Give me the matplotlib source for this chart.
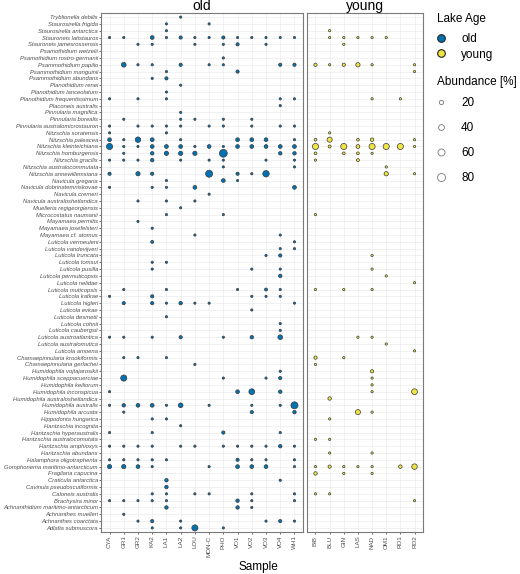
import numpy as np
import matplotlib.pyplot as plt
from matplotlib.lines import Line2D

plt.rcParams['font.family'] = ['Liberation Sans', 'DejaVu Sans']

# species, top to bottom
species = [
    "Tryblionella debilis", "Staurosirella frigida", "Staurosirella antarctica",
    "Stauroneis latistauros", "Stauroneis jamesrossensis", "Psamothidium wetzelii",
    "Psamothidium rostro-germanii", "Psammothidium papilio", "Psammothidium manguinii",
    "Psammothidium abundans", "Planothidium renei", "Planothidium lanceolatum",
    "Planothidium frequentissimum", "Placoneis australis", "Pinnularia magnifica",
    "Pinnularia borealis", "Pinnularia australomicrostauron", "Nitzschia soratensis",
    "Nitzschia paleacea", "Nitzschia kleinteichiana", "Nitzschia homburgensis",
    "Nitzschia gracilis", "Nitzschia australocommutata", "Nitzschia annewillemsiana",
    "Navicula gregaria", "Navicula dobrinatemniskovae", "Navicula cremeri",
    "Navicula australoshetlandica", "Muelleria regigeorgiensis", "Microcostatus naumanii",
    "Mayamaea permitis", "Mayamaea josefelsteri", "Mayamaea cf. atomus",
    "Luticola vermeuleni", "Luticola vandevijveri", "Luticola truncata",
    "Luticola tomsui", "Luticola pusilla", "Luticola permuticopsis",
    "Luticola nelidae", "Luticola muticopsis", "Luticola katkae",
    "Luticola higleri", "Luticola evkae", "Luticola desmetii",
    "Luticola cohnii", "Luticola caubergsii", "Luticola austroatlantica",
    "Luticola australomutica", "Luticola amoena", "Chamaepinnularia krookiformis",
    "Chamaepinnularia gerlachei", "Humidophila vojtajarosikii", "Humidophila sceppacuerciae",
    "Humidophila keiliorum", "Humidophila inconspicua", "Humidophila australoshetlandica",
    "Humidophila australis", "Humidophila arcuata", "Hippodonta hungarica",
    "Hantzschia incognita", "Hantzschia hyperaustralis", "Hantzschia australocomutata",
    "Hantzschia amphioxys", "Hantzschia abundans", "Halamphora oligotraphenta",
    "Gomphonema maritimo-antarcticum", "Fragilaria capucina", "Craticula antarctica",
    "Cavinula pseudoscutiformis", "Caloneis australis", "Brachysira minor",
    "Achnanthidium maritimo-antarcticum", "Achnanthes muelleri", "Achnanthes coarctata",
    "Adlafia submuscora",
]

old_samples = ["CYA", "GR1", "GR2", "KA2", "LA1", "LA2", "LOU", "MON-C",
               "PHO", "VO1", "VO2", "VO3", "VO4", "WH1"]
young_samples = ["BIB", "BLU", "GIN", "LAS", "NAD", "OM1", "RO1", "RO2"]

# relative abundance [%] per species and sample (estimated from the figure)
old_obs = {
    "Tryblionella debilis": {"LA2": 3},
    "Staurosirella frigida": {"LA1": 3, "MON-C": 3},
    "Staurosirella antarctica": {"LA1": 3},
    "Stauroneis latistauros": {"CYA": 3, "GR1": 3, "KA2": 15, "LA1": 3, "LA2": 10, "LOU": 3,
                               "MON-C": 3, "PHO": 10, "VO1": 3, "VO2": 3, "VO3": 3, "VO4": 3, "WH1": 3},
    "Stauroneis jamesrossensis": {"GR2": 3, "KA2": 3, "LOU": 3, "PHO": 3, "VO1": 10, "VO3": 3},
    "Psamothidium rostro-germanii": {"PHO": 3},
    "Psammothidium papilio": {"GR1": 25, "GR2": 3, "KA2": 3, "LA2": 10, "MON-C": 3, "PHO": 3,
                              "VO4": 10, "WH1": 10},
    "Psammothidium manguinii": {"LA1": 3, "VO1": 10},
    "Psammothidium abundans": {"KA2": 3, "LA1": 10},
    "Planothidium renei": {"LA2": 3},
    "Planothidium lanceolatum": {"LA1": 3},
    "Planothidium frequentissimum": {"CYA": 3, "GR2": 3, "LA1": 3, "VO4": 3, "WH1": 3},
    "Placoneis australis": {"VO4": 3},
    "Pinnularia magnifica": {"LA2": 3},
    "Pinnularia borealis": {"GR1": 3, "LA2": 3, "LOU": 3, "PHO": 3, "VO2": 3},
    "Pinnularia australomicrostauron": {"CYA": 3, "GR2": 3, "KA2": 3, "LA1": 3, "LA2": 3,
                                        "MON-C": 3, "PHO": 3, "VO2": 3, "VO4": 3, "WH1": 3},
    "Nitzschia soratensis": {"CYA": 3, "LA1": 3},
    "Nitzschia paleacea": {"CYA": 15, "GR1": 3, "GR2": 35, "KA2": 15, "LA2": 3, "VO1": 15,
                           "VO2": 15, "VO3": 15, "WH1": 3},
    "Nitzschia kleinteichiana": {"CYA": 45, "GR1": 3, "GR2": 3, "KA2": 15, "LA1": 15, "LA2": 15,
                                 "LOU": 3, "MON-C": 15, "PHO": 3, "VO1": 15, "VO2": 15,
                                 "VO3": 15, "VO4": 15, "WH1": 15},
    "Nitzschia homburgensis": {"GR1": 3, "KA2": 12, "LA1": 20, "LA2": 20, "LOU": 20,
                               "PHO": 75, "VO4": 12, "WH1": 12},
    "Nitzschia gracilis": {"CYA": 3, "GR1": 3, "GR2": 3, "KA2": 12, "LA2": 3, "MON-C": 3,
                           "PHO": 3, "VO3": 3, "WH1": 3},
    "Nitzschia australocommutata": {"PHO": 3, "WH1": 3},
    "Nitzschia annewillemsiana": {"CYA": 10, "GR2": 20, "KA2": 10, "MON-C": 60, "VO1": 10,
                                  "VO2": 3, "VO3": 50},
    "Navicula gregaria": {"LA1": 3, "PHO": 15, "VO1": 3},
    "Navicula dobrinatemniskovae": {"CYA": 3, "KA2": 3, "LA1": 3, "LOU": 15, "WH1": 15},
    "Navicula cremeri": {"MON-C": 3},
    "Navicula australoshetlandica": {"GR2": 3, "LA1": 3, "LOU": 3},
    "Muelleria regigeorgiensis": {"LA2": 3},
    "Microcostatus naumanii": {"LA1": 3, "PHO": 3},
    "Mayamaea permitis": {"GR2": 3},
    "Mayamaea josefelsteri": {"KA2": 3},
    "Mayamaea cf. atomus": {"LOU": 3, "VO4": 3},
    "Luticola vermeuleni": {"KA2": 8, "WH1": 3},
    "Luticola vandevijveri": {"VO4": 3, "WH1": 3},
    "Luticola truncata": {"VO3": 3, "VO4": 10},
    "Luticola tomsui": {"KA2": 3, "LA1": 3},
    "Luticola pusilla": {"KA2": 3, "VO2": 3, "VO4": 3},
    "Luticola permuticopsis": {"VO4": 12},
    "Luticola muticopsis": {"GR1": 3, "LA1": 3, "VO1": 3, "VO3": 8, "VO4": 3},
    "Luticola katkae": {"CYA": 3, "KA2": 10, "VO2": 3, "VO3": 3, "VO4": 3},
    "Luticola higleri": {"GR1": 10, "KA2": 10, "LA1": 3, "LA2": 12, "LOU": 3, "MON-C": 3, "WH1": 3},
    "Luticola evkae": {"VO2": 3},
    "Luticola desmetii": {"LA1": 3},
    "Luticola cohnii": {"VO4": 3},
    "Luticola caubergsii": {"VO4": 3},
    "Luticola austroatlantica": {"CYA": 3, "GR1": 3, "KA2": 3, "LA2": 10, "PHO": 3, "VO2": 12,
                                 "VO4": 25},
    "Chamaepinnularia krookiformis": {"GR1": 3, "GR2": 3, "LA1": 3},
    "Chamaepinnularia gerlachei": {"LOU": 3},
    "Humidophila vojtajarosikii": {"VO4": 3},
    "Humidophila sceppacuerciae": {"GR1": 45, "PHO": 3, "VO3": 3, "VO4": 10},
    "Humidophila inconspicua": {"CYA": 3, "VO1": 15, "VO2": 40, "VO4": 12},
    "Humidophila australis": {"CYA": 3, "GR1": 12, "GR2": 15, "KA2": 15, "LA1": 3, "LA2": 25,
                              "MON-C": 3, "VO2": 3, "VO4": 3, "WH1": 60},
    "Humidophila arcuata": {"GR1": 3, "VO2": 10, "WH1": 12},
    "Hippodonta hungarica": {"KA2": 3, "LA1": 3},
    "Hantzschia incognita": {"LA2": 3},
    "Hantzschia hyperaustralis": {"CYA": 3, "KA2": 3, "PHO": 10, "VO4": 3},
    "Hantzschia amphioxys": {"CYA": 3, "GR1": 3, "GR2": 3, "KA2": 3, "LA2": 3, "LOU": 3, "PHO": 3,
                             "VO1": 3, "VO2": 3, "VO3": 3, "VO4": 12, "WH1": 3},
    "Halamphora oligotraphenta": {"CYA": 3, "GR1": 3, "GR2": 3, "KA2": 3, "LA1": 3, "VO1": 10,
                                  "VO2": 3, "VO3": 3, "WH1": 3},
    "Gomphonema maritimo-antarcticum": {"CYA": 20, "GR1": 20, "GR2": 15, "KA2": 3, "MON-C": 3,
                                        "VO1": 15, "VO2": 15, "VO3": 15, "WH1": 3},
    "Craticula antarctica": {"LA1": 12, "VO4": 3},
    "Cavinula pseudoscutiformis": {"LA1": 12},
    "Caloneis australis": {"KA2": 3, "LA1": 3, "LOU": 3, "MON-C": 3, "VO2": 3, "WH1": 3},
    "Brachysira minor": {"CYA": 3, "GR1": 3, "GR2": 3, "KA2": 3, "LA1": 3, "VO1": 12, "VO2": 3,
                         "WH1": 3},
    "Achnanthidium maritimo-antarcticum": {"LA1": 12, "VO1": 12, "VO2": 3},
    "Achnanthes muelleri": {"GR1": 3},
    "Achnanthes coarctata": {"GR2": 3, "KA2": 10, "LA2": 3, "VO3": 3, "VO4": 10, "WH1": 3},
    "Adlafia submuscora": {"KA2": 3, "LA2": 3, "LOU": 45, "PHO": 3},
}

young_obs = {
    "Staurosirella antarctica": {"BLU": 3},
    "Stauroneis latistauros": {"BLU": 3, "GIN": 3, "LAS": 3, "NAD": 3, "OM1": 3},
    "Stauroneis jamesrossensis": {"GIN": 3},
    "Psammothidium papilio": {"BIB": 10, "BLU": 3, "GIN": 10, "LAS": 20, "NAD": 3, "RO2": 3},
    "Psammothidium manguinii": {"RO2": 3},
    "Planothidium frequentissimum": {"NAD": 3, "RO1": 3},
    "Nitzschia soratensis": {"BLU": 3},
    "Nitzschia paleacea": {"BIB": 6, "BLU": 30, "LAS": 6, "NAD": 12, "RO2": 3},
    "Nitzschia kleinteichiana": {"BIB": 45, "BLU": 8, "GIN": 45, "LAS": 15, "NAD": 45,
                                 "OM1": 45, "RO1": 45, "RO2": 3},
    "Nitzschia homburgensis": {"BIB": 6, "GIN": 6, "LAS": 6, "NAD": 3},
    "Nitzschia gracilis": {"BIB": 3, "LAS": 8},
    "Nitzschia australocommutata": {"OM1": 3},
    "Nitzschia annewillemsiana": {"OM1": 20, "RO2": 3},
    "Microcostatus naumanii": {"BIB": 3},
    "Luticola truncata": {"NAD": 3},
    "Luticola pusilla": {"NAD": 3},
    "Luticola permuticopsis": {"OM1": 3},
    "Luticola nelidae": {"RO2": 3},
    "Luticola muticopsis": {"BIB": 3, "GIN": 3, "NAD": 3},
    "Luticola austroatlantica": {"LAS": 3, "NAD": 3},
    "Luticola australomutica": {"OM1": 3},
    "Luticola amoena": {"RO2": 3},
    "Chamaepinnularia krookiformis": {"BIB": 10, "GIN": 3},
    "Chamaepinnularia gerlachei": {"BIB": 3},
    "Humidophila vojtajarosikii": {"NAD": 10},
    "Humidophila sceppacuerciae": {"NAD": 3},
    "Humidophila keiliorum": {"NAD": 3},
    "Humidophila inconspicua": {"NAD": 3, "RO2": 40},
    "Humidophila australoshetlandica": {"BLU": 12},
    "Humidophila arcuata": {"LAS": 30, "NAD": 3},
    "Hippodonta hungarica": {"BLU": 3},
    "Hantzschia australocomutata": {"BIB": 3, "BLU": 3},
    "Hantzschia abundans": {"BLU": 3, "NAD": 3},
    "Gomphonema maritimo-antarcticum": {"BIB": 3, "BLU": 10, "GIN": 3, "LAS": 3, "NAD": 3,
                                        "RO1": 12, "RO2": 35},
    "Fragilaria capucina": {"BIB": 12, "GIN": 3, "NAD": 3},
    "Caloneis australis": {"BIB": 3, "BLU": 3},
    "Brachysira minor": {"RO2": 3},
}

size_breaks = [20, 40, 60, 80]
age_colors = {"old": "#0072B2", "young": "#F0E442"}


def dot_size(v):
    return 0.4 * np.asarray(v, dtype=float) + 1.5


W, H = 520, 574
fig = plt.figure(figsize=(W / 100, H / 100), dpi=100)
ax_old = fig.add_axes([101 / W, 1 - 532 / H, 202 / W, 519 / H])
ax_young = fig.add_axes([307 / W, 1 - 532 / H, 116 / W, 519 / H])

panels = [(ax_old, old_samples, old_obs, "old"), (ax_young, young_samples, young_obs, "young")]
for ax, samples, obs, age in panels:
    xs, ys, vs = [], [], []
    for sp, row in obs.items():
        for smp, v in row.items():
            xs.append(samples.index(smp))
            ys.append(species.index(sp))
            vs.append(v)
    ax.scatter(xs, ys, s=dot_size(vs), c=age_colors[age], edgecolors="#3a3a3a",
               linewidths=0.5, zorder=3)
    ax.set_xlim(-0.6, len(samples) - 0.4)
    ax.set_ylim(len(species) - 0.4, -0.6)
    ax.set_xticks(range(len(samples)))
    ax.set_xticklabels(samples, rotation=90, fontsize=4.5, color="#4d4d4d")
    ax.set_yticks(range(len(species)))
    ax.grid(True, color="#ebebeb", lw=0.5)
    ax.set_axisbelow(True)
    ax.set_title(age, fontsize=10, pad=1.5)
    ax.tick_params(length=1.6, width=0.5, color="#333333", pad=1.0)
    for sp in ax.spines.values():
        sp.set_color("#7a7a7a")
        sp.set_linewidth(0.8)

ax_old.set_yticklabels(species, fontsize=4.2, style="italic", color="#4d4d4d")
ax_old.tick_params(axis="y", pad=0.6)
ax_young.tick_params(axis="y", left=False, labelleft=False)

fig.text(258 / W, 1 - 567 / H, "Sample", fontsize=8.5, ha="center", va="center")

# legends
fig.text(437 / W, 1 - 19 / H, "Lake Age", fontsize=8.5, ha="left", va="center")
age_handles = [Line2D([], [], ls="", marker="o", markersize=5.5, markerfacecolor=age_colors[a],
                      markeredgecolor="#222222", markeredgewidth=0.8, label=a)
               for a in ["old", "young"]]
fig.legend(handles=age_handles, loc="upper left",
           bbox_to_anchor=(434 / W, 1 - 33 / H), frameon=False, fontsize=8.5,
           handletextpad=1.1, labelspacing=0.3, borderaxespad=0, borderpad=0,
           handlelength=1.2)

fig.text(437 / W, 1 - 82 / H, "Abundance [%]", fontsize=8.5, ha="left", va="center")
size_handles = [Line2D([], [], ls="", marker="o", markersize=float(np.sqrt(dot_size(b))),
                       markerfacecolor="white", markeredgecolor="#777777",
                       markeredgewidth=0.6, label=str(b))
                for b in size_breaks]
fig.legend(handles=size_handles, loc="upper left",
           bbox_to_anchor=(434 / W, 1 - 97 / H), frameon=False, fontsize=8.5,
           handletextpad=1.1, labelspacing=1.1, borderaxespad=0, borderpad=0,
           handlelength=1.2)

fig.savefig("out.png", dpi=100)
